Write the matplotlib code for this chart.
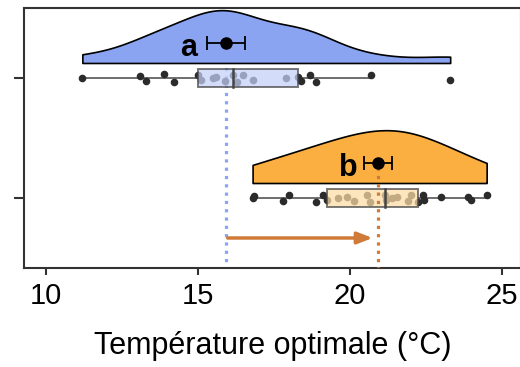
import numpy as np
import matplotlib.pyplot as plt

plt.rcParams['font.family'] = ['Liberation Sans', 'DejaVu Sans']

# valeurs
temp_a = [11.2, 13.1, 13.3, 13.9, 14.2, 15.0, 15.1, 15.5, 15.6, 15.9, 16.15,
          16.3, 16.5, 16.8, 17.9, 18.3, 18.4, 18.7, 18.9, 20.7, 23.3]
temp_b = [16.8, 16.85, 17.8, 18.0, 18.9, 19.1, 19.26, 19.6, 19.9, 20.15, 20.55,
          20.65, 21.15, 21.2, 21.4, 21.55, 21.9, 22.0, 22.25, 22.4, 22.45, 23.0,
          23.9, 24.0, 24.5]
groups = ['a', 'b']
means = [15.93, 20.92]
sems = [0.62, 0.45]
arrow_from, arrow_to = 15.98, 20.75

fill_cols = ['#8AA4F2', '#FBAF40']
box_cols = ['#C3D1F9', '#FDDCA4']
line_cols = ['#8AA4F5', '#D07A3A']
ypos = [2, 1]
label_gap = [0.35, 0.2]
bandwidth = [1.1, 1.4]

fig = plt.figure(figsize=(5.2, 3.67), dpi=100)
ax = fig.add_axes([24 / 520, 99 / 367, 497 / 520, 260 / 367])


def kde(x, grid, bw):
    x = np.asarray(x)
    d = np.exp(-0.5 * ((grid[:, None] - x[None, :]) / bw) ** 2).sum(axis=1)
    return d / d.max()


for i, data in enumerate([temp_a, temp_b]):
    y0 = ypos[i]
    data = np.asarray(data)
    # ligne pointillee de la moyenne
    top = y0 + 0.12 if i == 0 else y0 + 0.29
    ax.plot([means[i], means[i]], [0.4, top], color=line_cols[i], lw=2.3,
            ls=(0, (1, 1.6)), zorder=4 if i == 1 else 1)

    # demi-violon
    grid = np.linspace(data.min(), data.max(), 200)
    dens = kde(data, grid, bandwidth[i]) * 0.44
    ax.fill_between(grid, y0 + 0.125, y0 + 0.125 + dens, color=fill_cols[i],
                    edgecolor='black', lw=1.2, zorder=2)

    # points
    jit = 0.03 * np.sin(np.arange(len(data)) * 2.7)
    ax.scatter(data, y0 + jit, s=30, color='#2b2b2b', zorder=3, lw=0)

    # boite
    q1, med, q3 = np.percentile(data, [25, 50, 75])
    iqr = q3 - q1
    lo = data[data >= q1 - 1.5 * iqr].min()
    hi = data[data <= q3 + 1.5 * iqr].max()
    ax.plot([lo, q1], [y0, y0], color='#555555', lw=1.2, zorder=2.5)
    ax.plot([q3, hi], [y0, y0], color='#555555', lw=1.2, zorder=2.5)
    ax.add_patch(plt.Rectangle((q1, y0 - 0.078), q3 - q1, 0.156, facecolor=box_cols[i],
                               alpha=0.72, edgecolor='#444444', lw=1.4, zorder=3.5))
    ax.plot([med, med], [y0 - 0.078, y0 + 0.078], color='#444444', lw=1.8, zorder=3.6)

    # moyenne +- erreur
    ax.errorbar(means[i], y0 + 0.29, xerr=sems[i], fmt='o', color='black', ms=8,
                capsize=5, elinewidth=1.3, capthick=1.3, zorder=5)
    ax.text(means[i] - sems[i] - label_gap[i], y0 + 0.25, groups[i], fontsize=22,
            fontweight='bold', ha='right', va='center', zorder=5)

ax.annotate('', xy=(arrow_to, 0.667), xytext=(arrow_from, 0.667),
            arrowprops=dict(arrowstyle='-|>,head_length=0.9,head_width=0.35',
                            color='#D07A3A', lw=2.5, shrinkA=0, shrinkB=0))

ax.set_xlim(9.28, 25.63)
ax.set_ylim(0.417, 2.583)
ax.set_yticks(ypos)
ax.set_yticklabels([])
ax.set_xticks([10, 15, 20, 25])
ax.tick_params(axis='x', labelsize=21, length=5, width=1.5, color='#333333', pad=5)
ax.tick_params(axis='y', length=7, width=1.5, color='#333333')
for s in ax.spines.values():
    s.set_color('#333333')
    s.set_linewidth(1.5)
ax.set_xlabel('Température optimale (°C)', fontsize=22, labelpad=15)

fig.savefig('out.png', dpi=100)
